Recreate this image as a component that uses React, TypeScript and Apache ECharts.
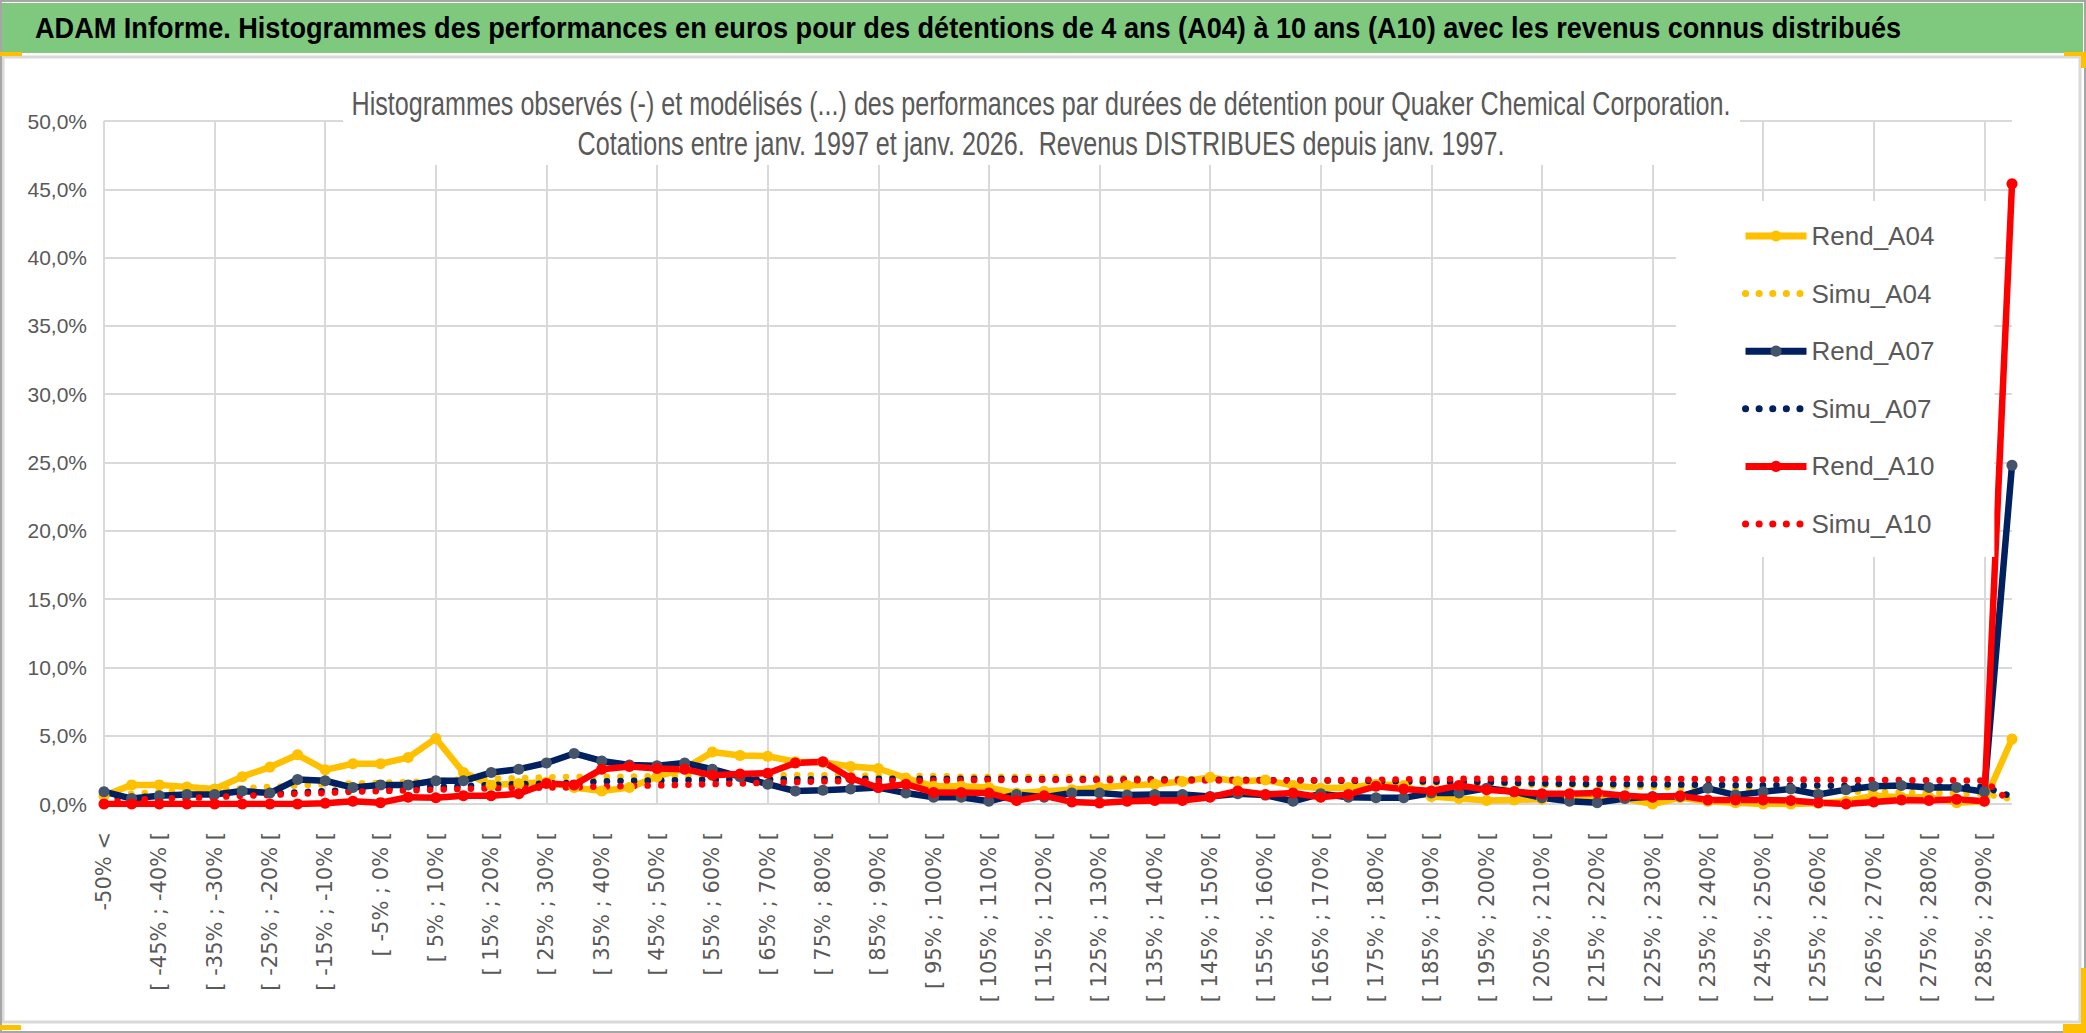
import React, { useEffect, useRef } from "react";
import * as echarts from "echarts";

const TITLE =
  "ADAM Informe. Histogrammes des performances en euros pour des détentions de 4 ans (A04) à 10 ans (A10) avec les revenus connus distribués";
const SUB1 =
  "Histogrammes observés (-) et modélisés (...) des performances par durées de détention pour Quaker Chemical Corporation.";
const SUB2 =
  "Cotations entre janv. 1997 et janv. 2026.  Revenus DISTRIBUES depuis janv. 1997.";

// category labels: bins of 5 %
const binStarts: number[] = [];
for (let a = -50; a <= 285; a += 5) binStarts.push(a);
const categories: string[] = [
  "-50% <",
  ...binStarts.map((a) => `[ ${a}% ; ${a + 5}% [`),
  "> 290%",
];

const seriesNames = ["Rend_A04", "Simu_A04", "Rend_A07", "Simu_A07", "Rend_A10", "Simu_A10"];

const rendA04 = [
  0.6, 1.4, 1.4, 1.25, 1.1, 2.0, 2.7, 3.6, 2.5, 2.95,
  2.95, 3.4, 4.8, 2.3, 1.4, 1.5, 1.6, 1.2, 0.95, 1.2,
  2.0, 2.6, 3.8, 3.55, 3.5, 3.1, 3.05, 2.75, 2.6, 1.9,
  1.3, 1.3, 1.2, 0.8, 0.93, 1.05, 1.2, 1.35, 1.45, 1.65,
  1.95, 1.65, 1.75, 1.35, 1.15, 1.2, 1.45, 1.35, 0.55, 0.4,
  0.25, 0.3, 0.35, 0.5, 0.6, 0.4, 0.0, 0.45, 0.2, 0.1,
  0.0, 0.0, 0.05, 0.2, 0.6, 0.5, 0.5, 0.1, 0.2, 4.75,
];
const simuA04 = [
  0.6, 0.75, 0.85, 0.95, 1.05, 1.15, 1.25, 1.35, 1.45, 1.5,
  1.55, 1.6, 1.7, 1.8, 1.85, 1.9, 1.95, 2.0, 2.0, 2.0,
  2.05, 2.05, 2.1, 2.1, 2.1, 2.1, 2.1, 2.1, 2.05, 2.05,
  2.05, 2.0, 2.0, 2.0, 1.95, 1.95, 1.9, 1.9, 1.85, 1.85,
  1.8, 1.8, 1.75, 1.7, 1.7, 1.65, 1.6, 1.6, 1.55, 1.5,
  1.5, 1.45, 1.4, 1.4, 1.35, 1.3, 1.25, 1.2, 1.15, 1.1,
  1.05, 1.0, 0.95, 0.9, 0.9, 0.85, 0.8, 0.8, 0.75, 0.35,
];
const rendA07 = [
  0.9, 0.4, 0.6, 0.7, 0.7, 0.95, 0.8, 1.8, 1.7, 1.2,
  1.4, 1.4, 1.7, 1.7, 2.3, 2.55, 3.0, 3.7, 3.15, 2.85,
  2.8, 3.0, 2.55, 2.0, 1.45, 0.95, 1.0, 1.1, 1.2, 0.8,
  0.5, 0.5, 0.2, 0.7, 0.5, 0.8, 0.8, 0.65, 0.7, 0.7,
  0.55, 0.75, 0.65, 0.2, 0.75, 0.5, 0.45, 0.45, 0.8, 0.8,
  1.15, 0.9, 0.45, 0.2, 0.1, 0.4, 0.55, 0.55, 1.15, 0.65,
  0.9, 1.1, 0.7, 1.05, 1.3, 1.35, 1.2, 1.2, 0.9, 24.8,
];
const simuA07 = [
  0.45, 0.5, 0.55, 0.6, 0.65, 0.7, 0.75, 0.85, 0.95, 1.0,
  1.1, 1.2, 1.25, 1.3, 1.4, 1.45, 1.5, 1.55, 1.65, 1.7,
  1.72, 1.75, 1.78, 1.8, 1.8, 1.82, 1.82, 1.84, 1.84, 1.85,
  1.85, 1.85, 1.85, 1.85, 1.82, 1.82, 1.8, 1.8, 1.8, 1.78,
  1.78, 1.76, 1.75, 1.74, 1.72, 1.7, 1.68, 1.66, 1.64, 1.62,
  1.6, 1.55, 1.5, 1.48, 1.46, 1.45, 1.43, 1.42, 1.4, 1.38,
  1.37, 1.36, 1.35, 1.33, 1.32, 1.3, 1.29, 1.28, 1.25, 0.55,
];
const rendA10 = [
  0.0, 0.0, 0.0, 0.0, 0.0, 0.0, 0.0, 0.0, 0.05, 0.2,
  0.1, 0.5, 0.45, 0.6, 0.6, 0.75, 1.5, 1.4, 2.55, 2.75,
  2.6, 2.55, 2.1, 2.2, 2.25, 3.0, 3.1, 1.9, 1.2, 1.45,
  0.85, 0.85, 0.8, 0.25, 0.6, 0.15, 0.07, 0.2, 0.25, 0.25,
  0.5, 0.95, 0.7, 0.8, 0.5, 0.7, 1.3, 1.1, 0.95, 1.35,
  1.05, 0.9, 0.75, 0.75, 0.8, 0.6, 0.5, 0.6, 0.3, 0.3,
  0.3, 0.25, 0.1, 0.0, 0.15, 0.3, 0.25, 0.35, 0.2, 45.4,
];
const simuA10 = [
  0.1, 0.3, 0.4, 0.45, 0.5, 0.6, 0.65, 0.75, 0.8, 0.9,
  0.95, 1.0, 1.05, 1.1, 1.15, 1.18, 1.2, 1.22, 1.28, 1.32,
  1.36, 1.4, 1.45, 1.5, 1.55, 1.6, 1.65, 1.67, 1.69, 1.7,
  1.72, 1.74, 1.76, 1.77, 1.77, 1.76, 1.75, 1.74, 1.73, 1.72,
  1.72, 1.72, 1.72, 1.73, 1.74, 1.76, 1.78, 1.8, 1.82, 1.84,
  1.85, 1.85, 1.85, 1.85, 1.85, 1.84, 1.84, 1.83, 1.82, 1.81,
  1.8, 1.79, 1.78, 1.77, 1.76, 1.75, 1.74, 1.73, 1.72, 0.07,
];

const YELLOW = "#FFC000";
const NAVY = "#002060";
const NAVY_MARK = "#44546A";
const RED = "#FF0000";
const GREY_TXT = "#595959";
const GRID = "#D9D9D9";

function measure(text: string, font: string): number {
  const c = document.createElement("canvas").getContext("2d");
  if (!c) return 1;
  c.font = font;
  return c.measureText(text).width || 1;
}

export default function App() {
  const ref = useRef<HTMLDivElement>(null);

  useEffect(() => {
    if (!ref.current) return;
    const chart = echarts.init(ref.current, undefined, { renderer: "svg" });

    const titleScale = 1868 / measure(TITLE, 'bold 30px "Liberation Sans"');
    const subScale = 1380 / measure(SUB1, '34px "Liberation Sans"');

    const rend = (name: string, data: number[], line: string, mark: string) => ({
      name,
      type: "line",
      data,
      symbol: "circle",
      symbolSize: 11,
      showSymbol: true,
      lineStyle: { color: line, width: 6.5 },
      itemStyle: { color: mark },
      emphasis: { disabled: true },
    });
    const simu = (name: string, data: number[], color: string) => ({
      name,
      type: "line",
      data,
      symbol: "none",
      lineStyle: { color, width: 6.5, type: [0.1, 13.5], cap: "round" },
      itemStyle: { color },
      emphasis: { disabled: true },
    });

    const legendData = seriesNames.map((n) =>
      n.startsWith("Simu")
        ? { name: n, itemStyle: { color: "rgba(0,0,0,0)", borderWidth: 0, opacity: 0 } }
        : { name: n }
    );

    const option: any = {
      animation: false,
      backgroundColor: "#ffffff",
      grid: { left: 104, right: 74, top: 121, bottom: 229, containLabel: false },
      legend: {
        data: legendData,
        orient: "vertical",
        left: 1676,
        top: 201,
        padding: [22, 60, 20, 66],
        backgroundColor: "#ffffff",
        itemWidth: 61,
        itemHeight: 14,
        itemGap: 31.6,
        lineStyle: { width: 7 },
        textStyle: { fontFamily: "Liberation Sans", fontSize: 26, color: GREY_TXT },
      },
      xAxis: {
        type: "category",
        data: categories,
        boundaryGap: false,
        axisLine: { show: false },
        axisTick: { show: false },
        axisLabel: {
          rotate: 90,
          interval: 1,
          margin: 28,
          fontFamily: "DejaVu Sans",
          fontSize: 21,
          color: GREY_TXT,
        },
        splitLine: {
          show: true,
          interval: (idx: number) => idx % 4 === 0,
          lineStyle: { color: GRID, width: 2 },
        },
      },
      yAxis: {
        type: "value",
        min: 0,
        max: 50,
        interval: 5,
        axisLine: { show: false },
        axisTick: { show: false },
        axisLabel: {
          margin: 17,
          fontFamily: "Liberation Sans",
          fontSize: 21,
          color: GREY_TXT,
          formatter: (v: number) => v.toFixed(1).replace(".", ",") + "%",
        },
        splitLine: { show: true, lineStyle: { color: GRID, width: 2 } },
      },
      series: [
        rend("Rend_A04", rendA04, YELLOW, YELLOW),
        simu("Simu_A04", simuA04, YELLOW),
        rend("Rend_A07", rendA07, NAVY, NAVY_MARK),
        simu("Simu_A07", simuA07, NAVY),
        rend("Rend_A10", rendA10, RED, RED),
        simu("Simu_A10", simuA10, RED),
      ],
      graphic: [
        {
          type: "rect",
          z: 1,
          silent: true,
          shape: { x: 3, y: 57, width: 2077, height: 965 },
          style: { fill: "none", stroke: GRID, lineWidth: 3 },
        },
        {
          type: "rect",
          z: 1,
          silent: true,
          shape: { x: 1, y: 1, width: 2084, height: 1031 },
          style: { fill: "none", stroke: "#A6A6A6", lineWidth: 2 },
        },
        {
          type: "rect",
          z: 2,
          silent: true,
          shape: { x: 2, y: 3, width: 2081, height: 50 },
          style: { fill: "#7FC97F" },
        },
        {
          type: "text",
          z: 3,
          silent: true,
          x: 35,
          y: 28,
          scaleX: titleScale,
          style: {
            text: TITLE,
            fill: "#000000",
            fontFamily: "Liberation Sans",
            fontWeight: "bold",
            fontSize: 30,
            align: "left",
            verticalAlign: "middle",
          },
        },
        { type: "rect", z: 4, silent: true, shape: { x: 0, y: 52, width: 22, height: 4 }, style: { fill: YELLOW } },
        { type: "rect", z: 4, silent: true, shape: { x: 2064, y: 52, width: 22, height: 4 }, style: { fill: YELLOW } },
        { type: "rect", z: 4, silent: true, shape: { x: 2081, y: 52, width: 5, height: 16 }, style: { fill: YELLOW } },
        { type: "rect", z: 4, silent: true, shape: { x: 0, y: 1025, width: 21, height: 5 }, style: { fill: YELLOW } },
        { type: "rect", z: 4, silent: true, shape: { x: 2063, y: 1024, width: 23, height: 9 }, style: { fill: YELLOW } },
        { type: "rect", z: 4, silent: true, shape: { x: 2081, y: 968, width: 5, height: 65 }, style: { fill: YELLOW } },
        {
          type: "rect",
          z: 5,
          silent: true,
          shape: { x: 343, y: 72, width: 1397, height: 93 },
          style: { fill: "#ffffff" },
        },
        {
          type: "text",
          z: 6,
          silent: true,
          x: 1041,
          y: 103,
          scaleX: subScale,
          style: {
            text: SUB1,
            fill: GREY_TXT,
            fontFamily: "Liberation Sans",
            fontSize: 34,
            align: "center",
            verticalAlign: "middle",
          },
        },
        {
          type: "text",
          z: 6,
          silent: true,
          x: 1041,
          y: 143,
          scaleX: subScale,
          style: {
            text: SUB2,
            fill: GREY_TXT,
            fontFamily: "Liberation Sans",
            fontSize: 34,
            align: "center",
            verticalAlign: "middle",
          },
        },
      ],
    };

    chart.setOption(option);
    return () => chart.dispose();
  }, []);

  return (
    <div
      ref={ref}
      style={{ position: "fixed", left: 0, top: 0, width: 2086, height: 1033, background: "#fff" }}
    />
  );
}
